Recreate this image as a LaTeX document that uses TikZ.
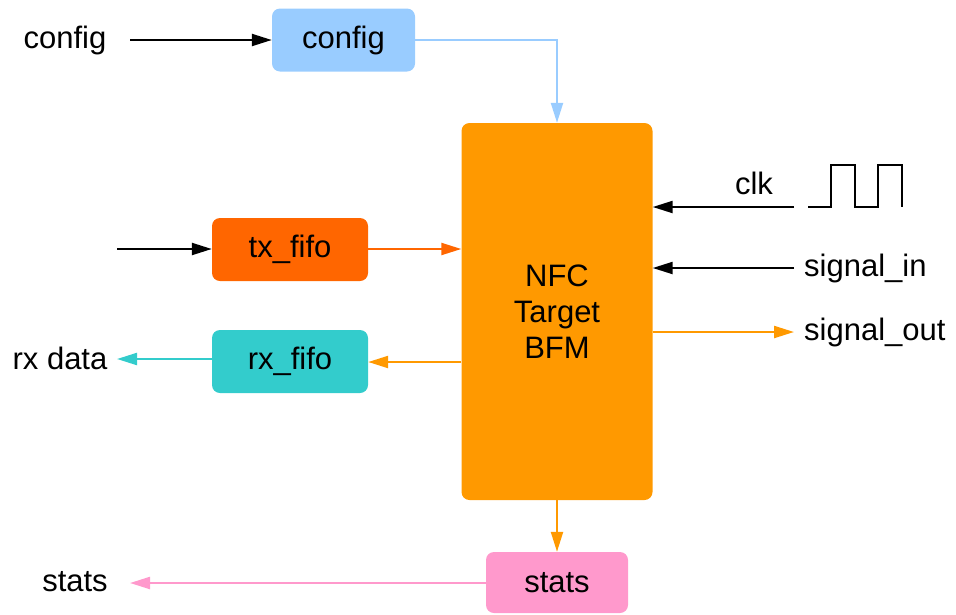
\documentclass[tikz,border=0pt]{standalone}
\usepackage{fontspec}
\setmainfont{Liberation Sans}
\usetikzlibrary{arrows.meta}
\definecolor{cfgblue}{HTML}{99CCFF}
\definecolor{bfmorange}{HTML}{FF9900}
\definecolor{txorange}{HTML}{FF6600}
\definecolor{rxteal}{HTML}{33CCCC}
\definecolor{statpink}{HTML}{FF99CC}
\tikzset{
  blk/.style={rounded corners=8pt, inner sep=0pt, font=\fontsize{31}{36}\selectfont},
  lbl/.style={inner sep=0pt, font=\fontsize{31}{36}\selectfont},
  conn/.style={line width=2.2pt, -{Triangle[length=20pt,width=12pt]}},
}
\begin{document}
\begin{tikzpicture}[x=1pt,y=-1pt]
\useasboundingbox (0,0) rectangle (956,614);

% blocks
\node[blk, fill=cfgblue, minimum width=143pt, minimum height=63pt] (cfg) at (343.5,40) {config};
\node[blk, fill=bfmorange, minimum width=191pt, minimum height=377pt, align=center] (bfm) at (557,311.5) {NFC\\Target\\BFM};
\node[blk, fill=txorange, minimum width=156pt, minimum height=63pt] (tx) at (290,249.5) {tx\_fifo};
\node[blk, fill=rxteal, minimum width=156pt, minimum height=63pt] (rx) at (290,361.5) {rx\_fifo};
\node[blk, fill=statpink, minimum width=142pt, minimum height=61pt] (st) at (557,582.5) {stats};

% outside labels
\node[lbl] (cfgin) at (65,40) {config};
\node[lbl] (clk) at (754,183) {clk};
\node[lbl, anchor=west] (sin) at (804,268) {signal\_in};
\node[lbl, anchor=west] (sout) at (804,332) {signal\_out};
\node[lbl] (rxd) at (60,358) {rx data};
\node[lbl] (sto) at (75,582) {stats};

% free line ends
\coordinate (cfgsrc) at (130,40);
\coordinate (txsrc) at (117,249);
\coordinate (rxdst) at (117,359);
\coordinate (stdst) at (130,583);
\coordinate (clksrc) at (794,207);
\coordinate (sinsrc) at (794,268);
\coordinate (soutdst) at (794,332);

% connectors
\draw[conn, black] (cfgsrc) -- (cfg.west);
\draw[conn, cfgblue] (cfg.east) -| (bfm.north);
\draw[conn, black] (txsrc) -- (tx.west |- txsrc);
\draw[conn, txorange] (tx.east |- txsrc) -- (bfm.west |- txsrc);
\draw[conn, bfmorange] (bfm.west |- 0,362) -- (rx.east |- 0,362);
\draw[conn, rxteal] (rx.west |- rxdst) -- (rxdst);
\draw[conn, black] (clksrc) -- (bfm.east |- clksrc);
\draw[conn, black] (sinsrc) -- (bfm.east |- sinsrc);
\draw[conn, bfmorange] (bfm.east |- soutdst) -- (soutdst);
\draw[conn, bfmorange] (bfm.south) -- (st.north);
\draw[conn, statpink] (st.west |- stdst) -- (stdst);

% clock waveform
\draw[line width=2.6pt, line join=miter] (808,207) -- (831,207) -- (831,165) -- (855,165)
  -- (855,207) -- (878,207) -- (878,165) -- (902,165) -- (902,207);
\end{tikzpicture}
\end{document}
